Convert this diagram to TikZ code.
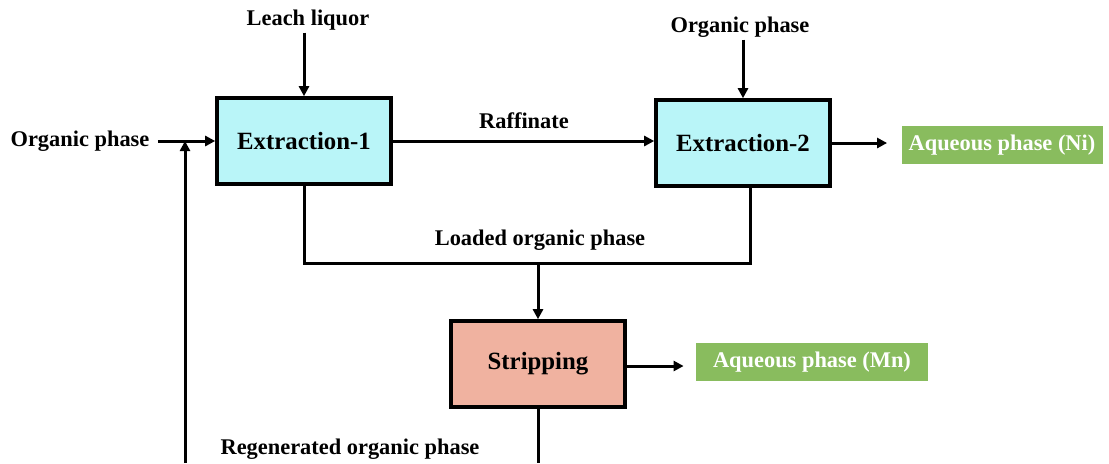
\documentclass[tikz,border=0pt]{standalone}
\usepackage{fontspec}
\setmainfont{Liberation Serif}
\usetikzlibrary{arrows.meta}
\definecolor{extfill}{HTML}{B9F5F8}
\definecolor{stripfill}{HTML}{F0B2A0}
\definecolor{outgreen}{HTML}{89BC5E}
\tikzset{
  unit/.style={draw, line width=1.8pt, minimum width=87pt, minimum height=43pt,
    font=\fontsize{12.4}{14}\selectfont\bfseries},
  product/.style={fill=outgreen, text=white, inner sep=0pt, minimum height=19pt,
    font=\fontsize{11.2}{13}\selectfont\bfseries},
  stream/.style={font=\fontsize{11.2}{13}\selectfont\bfseries, inner sep=1pt},
  arr/.style={line width=1.5pt, -{Triangle[length=5pt,width=5pt]}},
  pipe/.style={line width=1.5pt}
}
\begin{document}
\begin{tikzpicture}[x=0.5pt,y=-0.5pt]
  \useasboundingbox (0,0) rectangle (1109,463);
  % process units
  \node[unit, fill=extfill] (ex1) at (304,141) {Extraction-1};
  \node[unit, fill=extfill] (ex2) at (743,143) {Extraction-2};
  \node[unit, fill=stripfill] (strip) at (538,364) {Stripping};
  \node[product, minimum width=100.5pt] (ni) at (1002,145) {Aqueous phase (Ni)};
  \node[product, minimum width=116pt] (mn) at (812,362) {Aqueous phase (Mn)};
  % stream labels
  \node[stream] (leach) at (308,20) {Leach liquor};
  \node[stream] (orgtop) at (740,27) {Organic phase};
  \node[stream] (orgleft) at (80,141) {Organic phase};
  \node[stream] (raff) at (524,121) {Raffinate};
  \node[stream] (loaded) at (540,240) {Loaded organic phase};
  \node[stream] (regen) at (350,449) {Regenerated organic phase};
  \coordinate (jn) at (538,263);
  \coordinate (ret) at (185,463);
  \coordinate (bot) at (540,463);
  % connectors
  \draw[arr] (ex1.north |- leach.south) -- (ex1.north);
  \draw[arr] (ex2.north |- orgtop.south) -- (ex2.north);
  \draw[arr, shorten <=3pt] (orgleft.east) -- (orgleft.east -| ex1.west);
  \draw[arr] (ret) -- (ret |- orgleft.east);
  \draw[arr] (ex1.east) -- (ex1.east -| ex2.west);
  \draw[arr, shorten >=7pt] (ex2.east) -- (ex2.east -| ni.west);
  \draw[pipe] (ex1.south) |- (jn) -| ([xshift=3.5pt]ex2.south);
  \draw[arr] (jn) -- (strip.north);
  \draw[arr, shorten >=6pt] ([yshift=-1pt]strip.east) -- ([yshift=-1pt]strip.east -| mn.west);
  \draw[pipe] (strip.south) -- (strip.south |- bot);
\end{tikzpicture}
\end{document}
